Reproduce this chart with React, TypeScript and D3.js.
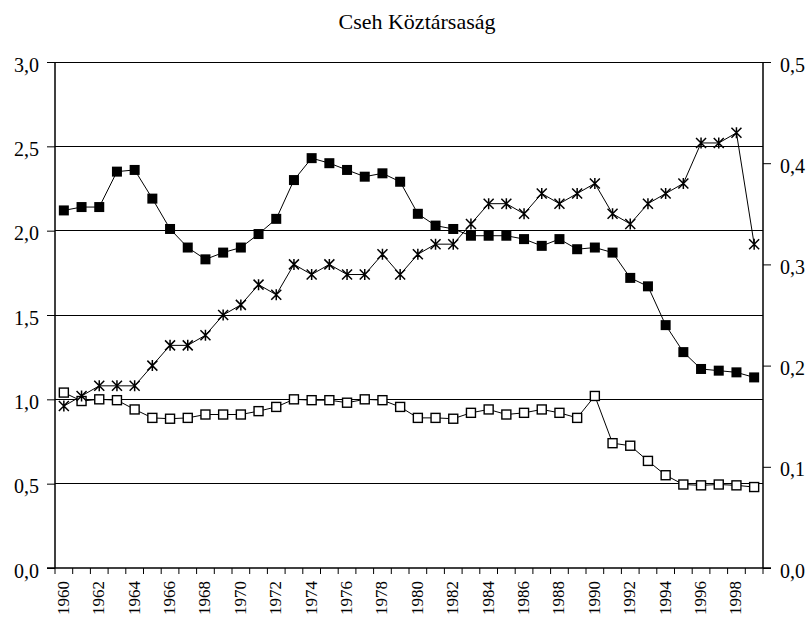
import React, { useEffect, useRef } from 'react';
import * as d3 from 'd3';

const years = d3.range(1960, 2000);

const filledSeries = [
  2.12, 2.14, 2.14, 2.35, 2.36, 2.19, 2.01, 1.9, 1.83, 1.87,
  1.9, 1.98, 2.07, 2.3, 2.43, 2.4, 2.36, 2.32, 2.34, 2.29,
  2.1, 2.03, 2.01, 1.97, 1.97, 1.97, 1.95, 1.91, 1.95, 1.89,
  1.9, 1.87, 1.72, 1.67, 1.44, 1.28, 1.18, 1.17, 1.16, 1.13,
];

const openSeries = [
  1.04, 0.99, 1.0, 0.995, 0.94, 0.89, 0.885, 0.89, 0.91, 0.91,
  0.91, 0.93, 0.955, 1.0, 0.995, 0.995, 0.98, 1.0, 0.995, 0.955,
  0.89, 0.89, 0.885, 0.92, 0.94, 0.91, 0.92, 0.94, 0.92, 0.89,
  1.02, 0.74, 0.725, 0.635, 0.55, 0.495, 0.49, 0.495, 0.49, 0.48,
];

// right axis
const starSeries = [
  0.16, 0.17, 0.18, 0.18, 0.18, 0.2, 0.22, 0.22, 0.23, 0.25,
  0.26, 0.28, 0.27, 0.3, 0.29, 0.3, 0.29, 0.29, 0.31, 0.29,
  0.31, 0.32, 0.32, 0.34, 0.36, 0.36, 0.35, 0.37, 0.36, 0.37,
  0.38, 0.35, 0.34, 0.36, 0.37, 0.38, 0.42, 0.42, 0.43, 0.32,
];

const leftTicks = [0, 0.5, 1, 1.5, 2, 2.5, 3];
const rightTicks = [0, 0.1, 0.2, 0.3, 0.4, 0.5];
const title = 'Cseh Köztársaság';

const fmt = (v: number) => v.toFixed(1).replace('.', ',');

const App = () => {
  const svgRef = useRef<SVGSVGElement>(null);

  useEffect(() => {
    const svg = d3.select(svgRef.current);
    svg.selectAll('*').remove();
    const font = 'Liberation Serif, Times New Roman, serif';

    const left = 55, right = 763, top = 62, bottom = 568;

    const x = d3.scaleBand<number>().domain(years).range([left, right]);
    const cx = (i: number) => (x(years[i]) as number) + x.bandwidth() / 2;
    const yL = d3.scaleLinear().domain([0, 3]).range([bottom, top]);
    const yR = d3.scaleLinear().domain([0, 0.5]).range([bottom, top]);

    svg.append('text')
      .attr('x', 417)
      .attr('y', 29)
      .attr('text-anchor', 'middle')
      .attr('font-family', font)
      .attr('font-size', 22)
      .text(title);

    // gridlines
    svg.append('g')
      .selectAll('line')
      .data(leftTicks.slice(1))
      .join('line')
      .attr('x1', left).attr('x2', right)
      .attr('y1', (d) => yL(d)).attr('y2', (d) => yL(d))
      .attr('stroke', '#000').attr('stroke-width', 1)
      .attr('shape-rendering', 'crispEdges');

    // left axis
    const gl = svg.append('g')
      .attr('transform', `translate(${left},0)`)
      .call(d3.axisLeft(yL).tickValues(leftTicks).tickFormat((d) => fmt(+d)).tickSize(8).tickPadding(8));

    // right axis
    const gr = svg.append('g')
      .attr('transform', `translate(${right},0)`)
      .call(d3.axisRight(yR).tickValues(rightTicks).tickFormat((d) => fmt(+d)).tickSize(8).tickPadding(9));

    [gl, gr].forEach((g) => {
      g.attr('font-family', font).attr('font-size', 20);
      g.selectAll('text').attr('fill', '#000').attr('dy', '0.45em');
      g.select('.domain').attr('d', `M0,${top}V${bottom}`).attr('stroke-width', 1.5);
    });

    // bottom axis
    const gb = svg.append('g').attr('transform', `translate(0,${bottom})`);
    gb.append('line')
      .attr('x1', left - 8).attr('x2', right + 8)
      .attr('stroke', '#000').attr('stroke-width', 1.5);
    gb.selectAll('line.tk')
      .data(years.concat([2000]))
      .join('line')
      .attr('class', 'tk')
      .attr('x1', (d, i) => left + i * x.step())
      .attr('x2', (d, i) => left + i * x.step())
      .attr('y1', 0).attr('y2', 6)
      .attr('stroke', '#000');
    gb.selectAll('text')
      .data(years.filter((d) => d % 2 === 0))
      .join('text')
      .attr('transform', (d) => `translate(${(x(d) as number) + x.bandwidth() / 2 + 5},13) rotate(-90)`)
      .attr('text-anchor', 'end')
      .attr('font-family', font)
      .attr('font-size', 17)
      .text((d) => d);

    const plotLine = (vals: number[], y: d3.ScaleLinear<number, number>) => {
      svg.append('path')
        .datum(vals)
        .attr('fill', 'none')
        .attr('stroke', '#000')
        .attr('stroke-width', 1)
        .attr('d', d3.line<number>().x((d, i) => cx(i)).y((d) => y(d)));
    };

    plotLine(starSeries, yR);
    plotLine(openSeries, yL);
    plotLine(filledSeries, yL);

    // markers
    svg.append('g')
      .selectAll('rect')
      .data(openSeries)
      .join('rect')
      .attr('x', (d, i) => cx(i) - 4.5)
      .attr('y', (d) => yL(d) - 4.5)
      .attr('width', 9).attr('height', 9)
      .attr('fill', '#fff').attr('stroke', '#000').attr('stroke-width', 1.4);

    svg.append('g')
      .selectAll('rect')
      .data(filledSeries)
      .join('rect')
      .attr('x', (d, i) => cx(i) - 5)
      .attr('y', (d) => yL(d) - 5)
      .attr('width', 10).attr('height', 10)
      .attr('fill', '#000');

    svg.append('g')
      .selectAll('path')
      .data(starSeries)
      .join('path')
      .attr('transform', (d, i) => `translate(${cx(i)},${yR(d)})`)
      .attr('d', 'M-5,-5L5,5M-5,5L5,-5M0,-5.5V5.5')
      .attr('stroke', '#000').attr('stroke-width', 1.5).attr('fill', 'none');
  }, []);

  return (
    <div style={{ position: 'absolute', left: 0, top: 0 }}>
      <svg ref={svgRef} width={811} height={620} style={{ display: 'block', background: '#fff' }}></svg>
    </div>
  );
};

export default App;
